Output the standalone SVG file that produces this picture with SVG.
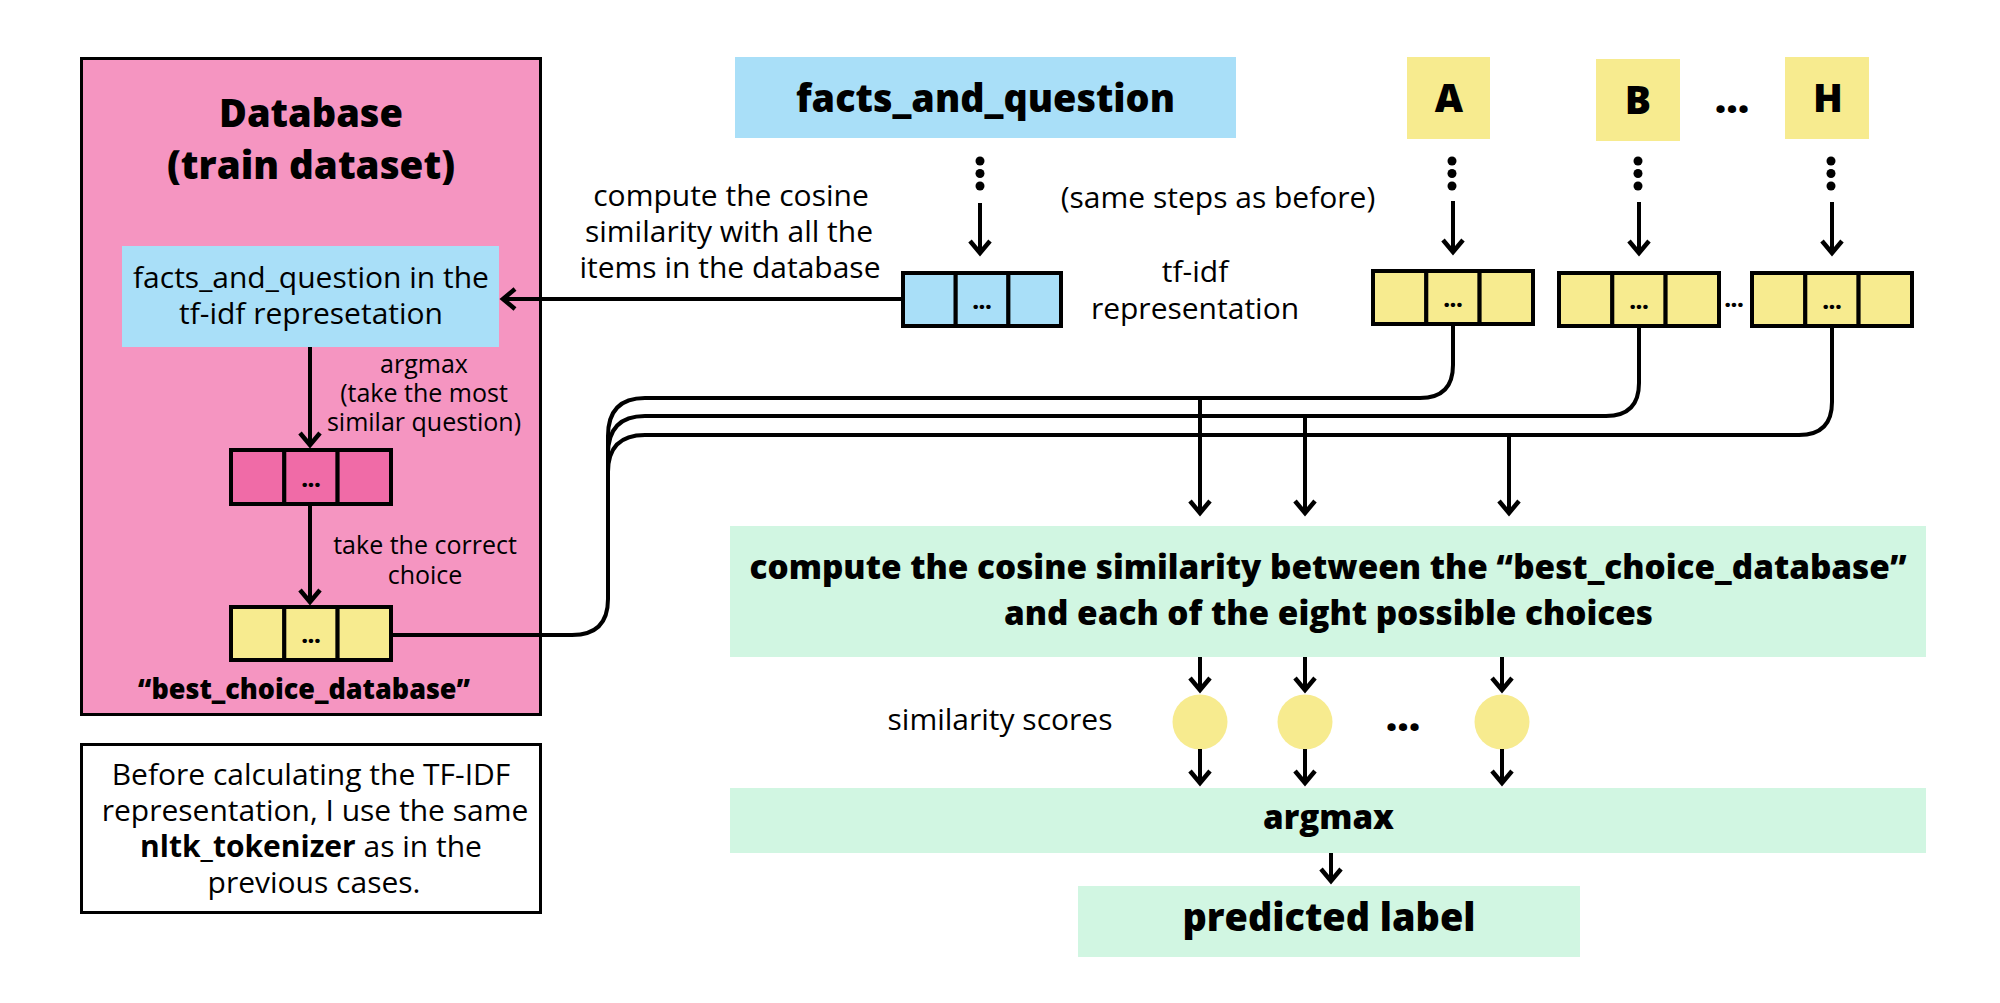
<svg xmlns="http://www.w3.org/2000/svg" width="2000" height="1003" viewBox="0 0 2000 1003">
<defs>
<style>
text { font-family: "Open Sans", "Liberation Sans", sans-serif; fill: #000; text-anchor: middle; }
.r30 { font-size: 30px; font-weight: 400; }
.r25 { font-size: 25px; font-weight: 400; }
.b { font-weight: 700; }
.xb { font-weight: 800; }
.dots { font-size: 22px; font-weight: 800; }
.cell { stroke: #000; stroke-width: 4; }
.pink { fill: #F595C1; }
.hot { fill: #F06BA7; }
.blue { fill: #A9DFF8; }
.yel { fill: #F7EB8F; }
.mint { fill: #D1F6E2; }
.ln { fill: none; stroke: #000; stroke-width: 4; }
.arr { fill: none; stroke: #000; stroke-width: 4; marker-end: url(#ah); }
.dot { fill: #000; }
</style>
<marker id="ah" markerUnits="userSpaceOnUse" markerWidth="30" markerHeight="30" viewBox="-15 -15 30 30" refX="0" refY="0" orient="auto" overflow="visible">
<path d="M-13,-10 L-1,0 L-13,10" fill="none" stroke="#000" stroke-width="4.5" stroke-linejoin="miter"/>
</marker>
</defs>
<rect x="0" y="0" width="2000" height="1003" fill="#fff"/>

<g id="database">
<rect x="81.5" y="58.5" width="459" height="656" class="pink" stroke="#000" stroke-width="3"/>
<text class="xb" font-size="38"><tspan x="311" y="127" textLength="184" lengthAdjust="spacingAndGlyphs">Database</tspan><tspan x="311" y="179" textLength="288" lengthAdjust="spacingAndGlyphs">(train dataset)</tspan></text>
</g>

<g id="db-query">
<rect x="122" y="246" width="377" height="101" class="blue"/>
<text class="r30"><tspan x="311" y="288">facts_and_question in the</tspan><tspan x="311" y="324">tf-idf represetation</tspan></text>
</g>

<g id="db-sim-vector">
<rect x="231" y="450" width="53.3" height="54" class="hot cell"/>
<rect x="284.3" y="450" width="53.3" height="54" class="hot cell"/>
<rect x="337.6" y="450" width="53.4" height="54" class="hot cell"/>
<text x="311" y="487" class="dots">...</text>
</g>

<g id="best-choice-vector">
<rect x="231" y="607" width="53.3" height="53" class="yel cell"/>
<rect x="284.3" y="607" width="53.3" height="53" class="yel cell"/>
<rect x="337.6" y="607" width="53.4" height="53" class="yel cell"/>
<text x="311" y="643" class="dots">...</text>
<text x="304" y="699" class="xb" font-size="28" textLength="332" lengthAdjust="spacingAndGlyphs">“best_choice_database”</text>
</g>

<g id="note">
<rect x="81.5" y="744.5" width="459" height="168" fill="#fff" stroke="#000" stroke-width="3"/>
<text class="r30"><tspan x="311" y="785">Before calculating the TF-IDF</tspan><tspan x="315" y="821">representation, I use the same</tspan><tspan x="311" y="857"><tspan class="b">nltk_tokenizer</tspan> as in the</tspan><tspan x="314" y="893">previous cases.</tspan></text>
</g>

<g id="facts-and-question">
<rect x="735" y="57" width="501" height="81" class="blue"/>
<text x="985.5" y="112" class="xb" font-size="39" textLength="379" lengthAdjust="spacingAndGlyphs">facts_and_question</text>
</g>

<g id="facts-vector">
<rect x="903" y="273" width="52.7" height="53" class="blue cell"/>
<rect x="955.7" y="273" width="52.7" height="53" class="blue cell"/>
<rect x="1008.4" y="273" width="52.6" height="53" class="blue cell"/>
<text x="982" y="309" class="dots">...</text>
</g>

<g id="choice-A">
<rect x="1407" y="57" width="83" height="82" class="yel"/>
<text x="1449" y="112" class="xb" font-size="39">A</text>
</g>
<g id="choice-B">
<rect x="1596" y="59" width="84" height="82" class="yel"/>
<text x="1638" y="114" class="xb" font-size="39">B</text>
</g>
<text x="1732" y="113" class="xb" font-size="40">...</text>
<g id="choice-H">
<rect x="1785" y="57" width="84" height="82" class="yel"/>
<text x="1828" y="112" class="xb" font-size="39">H</text>
</g>

<g id="vector-A">
<rect x="1373" y="271" width="53.3" height="53" class="yel cell"/>
<rect x="1426.3" y="271" width="53.3" height="53" class="yel cell"/>
<rect x="1479.6" y="271" width="53.4" height="53" class="yel cell"/>
<text x="1453" y="307" class="dots">...</text>
</g>
<g id="vector-B">
<rect x="1559" y="273" width="53.3" height="53" class="yel cell"/>
<rect x="1612.3" y="273" width="53.3" height="53" class="yel cell"/>
<rect x="1665.6" y="273" width="53.4" height="53" class="yel cell"/>
<text x="1639" y="309" class="dots">...</text>
</g>
<text x="1734" y="307" class="dots" font-size="18">...</text>
<g id="vector-H">
<rect x="1752" y="273" width="53.3" height="53" class="yel cell"/>
<rect x="1805.3" y="273" width="53.3" height="53" class="yel cell"/>
<rect x="1858.6" y="273" width="53.4" height="53" class="yel cell"/>
<text x="1832" y="309" class="dots">...</text>
</g>

<g id="labels">
<text class="r30"><tspan x="731" y="206">compute the cosine</tspan><tspan x="729" y="242">similarity with all the</tspan><tspan x="730" y="278">items in the database</tspan></text>
<text x="1218" y="208" class="r30">(same steps as before)</text>
<text class="r30"><tspan x="1195" y="282">tf-idf</tspan><tspan x="1195" y="319">representation</tspan></text>
<text class="r25"><tspan x="424" y="373">argmax</tspan><tspan x="424" y="402">(take the most</tspan><tspan x="424" y="431">similar question)</tspan></text>
<text class="r25"><tspan x="425" y="554">take the correct</tspan><tspan x="425" y="584">choice</tspan></text>
<text x="1000" y="730" class="r30">similarity scores</text>
</g>

<g id="cosine-similarity">
<rect x="730" y="526" width="1196" height="131" class="mint"/>
<text class="xb" font-size="34"><tspan x="1328" y="579" textLength="1157" lengthAdjust="spacingAndGlyphs">compute the cosine similarity between the “best_choice_database”</tspan><tspan x="1328.5" y="625" textLength="649" lengthAdjust="spacingAndGlyphs">and each of the eight possible choices</tspan></text>
</g>

<g id="scores">
<ellipse cx="1200" cy="722" rx="27.5" ry="27.5" class="yel"/>
<ellipse cx="1305" cy="722" rx="27.5" ry="27.5" class="yel"/>
<text x="1403" y="731" class="xb" font-size="40">...</text>
<ellipse cx="1502" cy="722" rx="27.5" ry="27.5" class="yel"/>
</g>

<g id="argmax">
<rect x="730" y="788" width="1196" height="65" class="mint"/>
<text x="1328.5" y="829" class="xb" font-size="34" textLength="131" lengthAdjust="spacingAndGlyphs">argmax</text>
</g>

<g id="predicted-label">
<rect x="1078" y="886" width="502" height="71" class="mint"/>
<text x="1329" y="931" class="xb" font-size="38.5" textLength="293" lengthAdjust="spacingAndGlyphs">predicted label</text>
</g>

<g id="connectors">
<circle cx="980" cy="161" r="4.5" class="dot"/>
<circle cx="980" cy="173.5" r="4.5" class="dot"/>
<circle cx="980" cy="186" r="4.5" class="dot"/>
<line x1="980" y1="203" x2="980" y2="254" class="arr"/>
<circle cx="1452" cy="161" r="4.5" class="dot"/>
<circle cx="1452" cy="173.5" r="4.5" class="dot"/>
<circle cx="1452" cy="186" r="4.5" class="dot"/>
<line x1="1453" y1="201" x2="1453" y2="253" class="arr"/>
<circle cx="1638" cy="161" r="4.5" class="dot"/>
<circle cx="1638" cy="173.5" r="4.5" class="dot"/>
<circle cx="1638" cy="186" r="4.5" class="dot"/>
<line x1="1639" y1="202" x2="1639" y2="254" class="arr"/>
<circle cx="1831" cy="161" r="4.5" class="dot"/>
<circle cx="1831" cy="173.5" r="4.5" class="dot"/>
<circle cx="1831" cy="186" r="4.5" class="dot"/>
<line x1="1832" y1="202" x2="1832" y2="254" class="arr"/>
<line x1="903" y1="299" x2="502" y2="299" class="arr"/>
<line x1="310" y1="347" x2="310" y2="446" class="arr"/>
<line x1="310" y1="504" x2="310" y2="603" class="arr"/>
<path d="M1453,324 V365 Q1453,398 1420,398 H645 Q608,398 608,436 V476" class="ln"/>
<path d="M1639,326 V383 Q1639,416 1606,416 H645 Q608,416 608,454 V476" class="ln"/>
<path d="M1832,326 V402 Q1832,435 1799,435 H645 Q608,435 608,472 V476" class="ln"/>
<path d="M391,635 H572 Q608,635 608,599 V474" class="ln"/>
<line x1="1200" y1="398" x2="1200" y2="514" class="arr"/>
<line x1="1305" y1="416" x2="1305" y2="514" class="arr"/>
<line x1="1509" y1="435" x2="1509" y2="514" class="arr"/>
<line x1="1200" y1="657" x2="1200" y2="691" class="arr"/>
<line x1="1305" y1="657" x2="1305" y2="691" class="arr"/>
<line x1="1502" y1="657" x2="1502" y2="691" class="arr"/>
<line x1="1200" y1="749" x2="1200" y2="784" class="arr"/>
<line x1="1305" y1="749" x2="1305" y2="784" class="arr"/>
<line x1="1502" y1="749" x2="1502" y2="784" class="arr"/>
<line x1="1331" y1="853" x2="1331" y2="882" class="arr"/>
</g>
</svg>
